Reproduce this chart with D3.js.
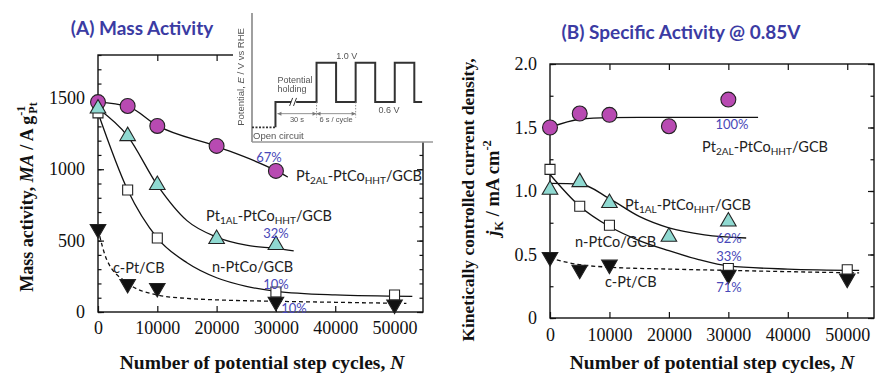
<!DOCTYPE html>
<html>
<head>
<meta charset="utf-8">
<script src="https://cdn.jsdelivr.net/npm/d3@7"></script>
<style>
  html, body { margin: 0; padding: 0; background: #fff; }
  svg { display: block; }
  .tick text { font-family: "Liberation Serif", "Times New Roman", serif; font-size: 18px; fill: #111; }
</style>
</head>
<body>
<svg id="chart" width="877" height="373"></svg>
<script>
// ---- step-cycle counts and measured activities ----
const cycles = [0, 5000, 10000, 20000, 30000, 50000];

// (A) mass activity, A g^-1 Pt
const massPt2AL  = [[0, 1470], [5000, 1443], [10000, 1303], [20000, 1163], [30000, 988]];
const massPt1AL  = [[0, 1425], [5000, 1232], [10000, 889], [20000, 511], [30000, 469]];
const massNPtCo  = [[0, 1395], [5000, 854], [10000, 518], [30000, 140], [50000, 119]];
const massCPt    = [[0, 581], [5000, 196], [10000, 168], [30000, 72], [50000, 52]];

// fitted trend curves for (A)
const fitMassPt2AL = [[0, 1470], [5000, 1440], [10000, 1305], [20000, 1160], [30000, 990], [32000, 945]];
const fitMassPt1AL = [[0, 1425], [5000, 1232], [10000, 889], [15000, 640], [20000, 525], [25000, 468], [30000, 445], [33000, 428]];
const fitMassNPtCo = [[0, 1395], [5000, 854], [10000, 518], [15000, 345], [20000, 240], [25000, 180], [30000, 145], [40000, 120], [53000, 110]];
const fitMassCPt   = [[0, 581], [1500, 364], [5000, 203], [10000, 119], [15000, 95], [20000, 85], [30000, 75], [40000, 68], [52000, 60]];

// (B) specific activity at 0.85 V, mA cm^-2
const specPt2AL  = [[0, 1.50], [5000, 1.61], [10000, 1.60], [20000, 1.51], [30000, 1.72]];
const specPt1AL  = [[0, 1.01], [5000, 1.07], [10000, 0.905], [20000, 0.64], [30000, 0.76]];
const specNPtCo  = [[0, 1.17], [5000, 0.88], [10000, 0.73], [30000, 0.39], [50000, 0.38]];
const specCPt    = [[0, 0.48], [5000, 0.38], [10000, 0.42], [30000, 0.34], [50000, 0.31]];

// fitted trend curves for (B)
const fitSpecPt2AL = [[0, 1.50], [5000, 1.565], [10000, 1.578], [15000, 1.58], [35000, 1.58]];
const fitSpecPt1AL = [[0, 1.06], [5000, 1.055], [10000, 0.94], [15000, 0.80], [20000, 0.71], [26000, 0.655], [33000, 0.63]];
const fitSpecNPtCo = [[0, 1.13], [5000, 0.88], [10000, 0.72], [15000, 0.61], [20000, 0.53], [25000, 0.46], [30000, 0.41], [40000, 0.385], [52000, 0.375]];
const fitSpecCPt   = [[0, 0.47], [5000, 0.42], [10000, 0.40], [20000, 0.385], [30000, 0.375], [40000, 0.365], [52000, 0.355]];

// tick values
const xTicks = [0, 10000, 20000, 30000, 40000, 50000];
const massMajor = [0, 500, 1000, 1500];
const massMinor = d3.range(0, 1801, 100);
const specMajor = [0, 0.5, 1.0, 1.5, 2.0];
const specLabels = ["0", "0.5", "1.0", "1.5", "2.0"];
const specMinor = d3.range(0, 2.01, 0.25);

// retention percentages at the last comparison point
const pctMass = ["67%", "32%", "10%", "10%"];
const pctSpec = ["100%", "62%", "33%", "71%"];

// potential-step protocol (schematic time units, V vs RHE)
const waveOpen = [[0, 0.34], [1.2, 0.34]];
const waveStep = [[1.2, 0.34], [1.2, 0.6], [3.3, 0.6], [3.3, 1.0], [4.3, 1.0], [4.3, 0.6], [5.3, 0.6], [5.3, 1.0],
                  [6.3, 1.0], [6.3, 0.6], [7.3, 0.6], [7.3, 1.0], [8.3, 1.0], [8.3, 0.6], [8.7, 0.6]];

const svg = d3.select("#chart");
svg.append("defs").append("filter").attr("id", "soft").append("feGaussianBlur").attr("stdDeviation", 0.45);
const titleColor = "#3b3ba3";
const pctColor = "#4848b8";
const sans = "Lato, 'Open Sans', sans-serif";
const serif = "'Liberation Serif', 'Times New Roman', serif";

const style = {
  pt2: { shape: "circle", fill: "#b84ab2" },
  pt1: { shape: "tri", fill: "#8fd9d1" },
  npc: { shape: "square", fill: "#ffffff" },
  cpt: { shape: "down", fill: "#111111" }
};

function drawPanel(g, x, y, opt) {
  const [x0, x1] = x.range();
  const [y0, y1] = y.range();

  // frame
  g.append("rect").attr("x", x0).attr("y", y1).attr("width", x1 - x0).attr("height", y0 - y1)
    .attr("fill", "none").attr("stroke", "#111").attr("stroke-width", 1.4);

  // inward ticks
  g.append("g").attr("transform", `translate(0,${y0})`)
    .call(d3.axisBottom(x).tickValues(xTicks).tickSizeInner(-6).tickSizeOuter(0).tickPadding(opt.xPad).tickFormat(d3.format("d")))
    .call(a => a.select(".domain").remove());
  g.append("g").attr("transform", `translate(0,${y1})`)
    .call(d3.axisTop(x).tickValues(xTicks.slice(1)).tickSizeInner(-6).tickSizeOuter(0).tickFormat(""))
    .call(a => a.select(".domain").remove());
  g.append("g").attr("transform", `translate(${x0},0)`)
    .call(d3.axisLeft(y).tickValues(opt.major).tickSizeInner(-6).tickSizeOuter(0).tickPadding(13).tickFormat((d, i) => opt.labels[i]))
    .call(a => a.select(".domain").remove());
  g.append("g").attr("transform", `translate(${x0},0)`)
    .call(d3.axisLeft(y).tickValues(opt.minor).tickSizeInner(-3.5).tickSizeOuter(0).tickFormat(""))
    .call(a => a.select(".domain").remove());
  g.append("g").attr("transform", `translate(${x1},0)`)
    .call(d3.axisRight(y).tickValues(opt.major).tickSizeInner(-6).tickSizeOuter(0).tickFormat(""))
    .call(a => a.select(".domain").remove());
  g.append("g").attr("transform", `translate(${x1},0)`)
    .call(d3.axisRight(y).tickValues(opt.minor).tickSizeInner(-3.5).tickSizeOuter(0).tickFormat(""))
    .call(a => a.select(".domain").remove());
  g.selectAll(".tick line").attr("stroke", "#111").attr("stroke-width", 1.2);

  // trend curves
  const line = d3.line().x(d => x(d[0])).y(d => y(d[1])).curve(d3.curveMonotoneX);
  opt.fits.forEach(f => {
    g.append("path").attr("d", line(f.data)).attr("fill", "none").attr("stroke", "#111")
      .attr("stroke-width", 1.3).attr("stroke-dasharray", f.dash ? "4,3" : null);
  });

  // markers
  opt.series.forEach(s => {
    const st = style[s.key];
    const sel = g.append("g").selectAll("path").data(s.data).join("path")
      .attr("fill", st.fill).attr("stroke", "#222").attr("stroke-width", 1.1);
    if (st.shape === "circle") {
      sel.attr("d", d3.symbol(d3.symbolCircle, 175)()).attr("transform", d => `translate(${x(d[0])},${y(d[1])})`);
    } else if (st.shape === "tri") {
      sel.attr("d", d3.symbol(d3.symbolTriangle, 105)()).attr("transform", d => `translate(${x(d[0])},${y(d[1])})`);
    } else if (st.shape === "square") {
      sel.attr("d", d3.symbol(d3.symbolSquare, 100)()).attr("transform", d => `translate(${x(d[0])},${y(d[1])})`);
    } else {
      sel.attr("d", d3.symbol(d3.symbolTriangle, 105)()).attr("transform", d => `translate(${x(d[0])},${y(d[1])}) rotate(180)`);
    }
  });
}

function catalystLabel(g, px, py, main, sub1, mid, sub2, tail) {
  const t = g.append("text").attr("x", px).attr("y", py).attr("font-family", sans).attr("font-size", 14.5).attr("fill", "#222");
  t.append("tspan").text(main);
  if (sub1) {
    t.append("tspan").attr("font-size", 10).attr("dy", 2.5).text(sub1);
    t.append("tspan").attr("dy", -2.5).text(mid);
    t.append("tspan").attr("font-size", 10).attr("dy", 2.5).text(sub2);
    t.append("tspan").attr("dy", -2.5).text(tail);
  }
  return t;
}
function pct(g, px, py, s) {
  g.append("text").attr("x", px).attr("y", py).attr("text-anchor", "middle").attr("font-family", sans)
    .attr("font-size", 13).attr("fill", pctColor).text(s);
}

// ---------------- (A) mass activity ----------------
const xA = d3.scaleLinear().domain([0, 54800]).range([98, 423]);
const yA = d3.scaleLinear().domain([0, 1800]).range([312, 55]);
const gA = svg.append("g");
drawPanel(gA, xA, yA, {
  xPad: 9, major: massMajor, labels: massMajor.map(String), minor: massMinor,
  fits: [{ data: fitMassPt2AL }, { data: fitMassPt1AL }, { data: fitMassNPtCo }, { data: fitMassCPt, dash: true }],
  series: [{ key: "pt2", data: massPt2AL }, { key: "npc", data: massNPtCo }, { key: "pt1", data: massPt1AL }, { key: "cpt", data: massCPt }]
});

// inset: potential-step protocol, on a white card over the panel corner
svg.append("rect").attr("x", 233).attr("y", 4).attr("width", 200).attr("height", 138).attr("fill", "#fff");
const inset = svg.append("g").attr("filter", "url(#soft)");
const tI = d3.scaleLinear().domain([0, 9]).range([252, 428]);
const eI = d3.scaleLinear().domain([0.2, 1.5]).range([141, 14]);
inset.append("line").attr("x1", 252).attr("x2", 252).attr("y1", 13).attr("y2", 142).attr("stroke", "#888").attr("stroke-width", 1.6);
inset.append("line").attr("x1", 252).attr("x2", 433).attr("y1", 142).attr("y2", 142).attr("stroke", "#999").attr("stroke-width", 1.6);
const wl = d3.line().x(d => tI(d[0])).y(d => eI(d[1]));
inset.append("path").attr("d", wl(waveOpen)).attr("fill", "none").attr("stroke", "#333").attr("stroke-width", 1.8).attr("stroke-dasharray", "2,1.5");
inset.append("path").attr("d", wl(waveStep)).attr("fill", "none").attr("stroke", "#333").attr("stroke-width", 2);
// hold break mark
inset.append("rect").attr("x", tI(2.0)).attr("y", eI(0.6) - 3).attr("width", 5).attr("height", 6).attr("fill", "#fff");
[2.0, 2.2].forEach(t => inset.append("line").attr("x1", tI(t) - 1.5).attr("x2", tI(t) + 1.5).attr("y1", eI(0.6) + 4).attr("y2", eI(0.6) - 4).attr("stroke", "#333").attr("stroke-width", 1));
// duration markers
const yArrow = eI(0.48);
[[1.3, 3.3], [3.3, 5.3]].forEach(([a, b]) => {
  inset.append("line").attr("x1", tI(a)).attr("x2", tI(b)).attr("y1", yArrow).attr("y2", yArrow).attr("stroke", "#777").attr("stroke-width", 0.8);
  inset.append("path").attr("d", `M${tI(a)},${yArrow}l4,-2v4z M${tI(b)},${yArrow}l-4,-2v4z`).attr("fill", "#777");
});
[3.3, 5.3].forEach(t => inset.append("line").attr("x1", tI(t)).attr("x2", tI(t)).attr("y1", eI(0.6)).attr("y2", eI(0.44))
  .attr("stroke", "#777").attr("stroke-width", 0.8).attr("stroke-dasharray", "1.5,1.5"));
const insetFont = "'Liberation Sans', Arial, sans-serif";
function insetText(px, py, s, anchor) {
  return inset.append("text").attr("x", px).attr("y", py).attr("font-family", insetFont).attr("font-size", 9)
    .attr("fill", "#555").attr("text-anchor", anchor || "start").text(s);
}
insetText(tI(4.85), eI(1.04), "1.0 V", "middle");
insetText(tI(7.0), eI(0.49), "0.6 V", "middle");
insetText(tI(1.3), eI(0.79), "Potential");
insetText(tI(1.3), eI(0.70), "holding");
insetText(tI(2.3), eI(0.39), "30 s", "middle").attr("font-size", 7.5);
insetText(tI(4.3), eI(0.39), "6 s / cycle", "middle").attr("font-size", 7.5);
insetText(253, 139, "Open circuit").attr("font-size", 9.5);
const insetY = inset.append("text").attr("transform", "translate(244,77) rotate(-90)").attr("text-anchor", "middle")
  .attr("font-family", insetFont).attr("font-size", 9.5).attr("fill", "#555");
insetY.append("tspan").text("Potential, ");
insetY.append("tspan").attr("font-style", "italic").text("E");
insetY.append("tspan").text(" / V vs RHE");

// labels (A)
catalystLabel(gA, 296, 181, "Pt", "2AL", "-PtCo", "HHT", "/GCB");
catalystLabel(gA, 206, 221, "Pt", "1AL", "-PtCo", "HHT", "/GCB");
catalystLabel(gA, 212, 272, "n-PtCo/GCB");
catalystLabel(gA, 113, 273, "c-Pt/CB");
pct(gA, 269, 162, pctMass[0]);
pct(gA, 276, 238, pctMass[1]);
pct(gA, 276, 289, pctMass[2]);
pct(gA, 294, 313, pctMass[3]);

svg.append("text").attr("x", 142).attr("y", 35).attr("text-anchor", "middle").attr("font-family", sans)
  .attr("font-weight", "bold").attr("font-size", 19).attr("fill", titleColor).text("(A) Mass Activity");

const yLabA = svg.append("text").attr("transform", "translate(33,197) rotate(-90)").attr("text-anchor", "middle")
  .attr("font-family", serif).attr("font-weight", "bold").attr("font-size", 18).attr("fill", "#111");
yLabA.append("tspan").text("Mass activity, ");
yLabA.append("tspan").attr("font-style", "italic").text("MA");
yLabA.append("tspan").text(" / A g");
yLabA.append("tspan").attr("font-size", 12).attr("dy", -8).text("-1");
yLabA.append("tspan").attr("font-size", 12).attr("dy", 12).attr("dx", -8).text("Pt");

const xLabA = svg.append("text").attr("x", 262).attr("y", 369).attr("text-anchor", "middle")
  .attr("font-family", serif).attr("font-weight", "bold").attr("font-size", 19.5).attr("fill", "#111");
xLabA.append("tspan").text("Number of potential step cycles, ");
xLabA.append("tspan").attr("font-style", "italic").text("N");

// ---------------- (B) specific activity ----------------
const xB = d3.scaleLinear().domain([0, 54500]).range([550, 874]);
const yB = d3.scaleLinear().domain([0, 2]).range([318, 64]);
const gB = svg.append("g");
drawPanel(gB, xB, yB, {
  xPad: 10, major: specMajor, labels: specLabels, minor: specMinor,
  fits: [{ data: fitSpecPt2AL }, { data: fitSpecPt1AL }, { data: fitSpecNPtCo }, { data: fitSpecCPt, dash: true }],
  series: [{ key: "pt2", data: specPt2AL }, { key: "npc", data: specNPtCo }, { key: "pt1", data: specPt1AL }, { key: "cpt", data: specCPt }]
});

catalystLabel(gB, 702, 152, "Pt", "2AL", "-PtCo", "HHT", "/GCB");
catalystLabel(gB, 625, 210, "Pt", "1AL", "-PtCo", "HHT", "/GCB");
catalystLabel(gB, 575, 247, "n-PtCo/GCB");
catalystLabel(gB, 605, 287, "c-Pt/CB");
pct(gB, 732, 129, pctSpec[0]);
pct(gB, 729, 243, pctSpec[1]);
pct(gB, 729, 261, pctSpec[2]);
pct(gB, 729, 292, pctSpec[3]);

svg.append("text").attr("x", 681).attr("y", 39).attr("text-anchor", "middle").attr("font-family", sans)
  .attr("font-weight", "bold").attr("font-size", 19).attr("fill", titleColor).text("(B) Specific Activity @ 0.85V");

const yLabB1 = svg.append("text").attr("transform", "translate(474,200) rotate(-90)").attr("text-anchor", "middle")
  .attr("font-family", serif).attr("font-weight", "bold").attr("font-size", 17.5).attr("fill", "#111")
  .text("Kinetically controlled current density,");
const yLabB2 = svg.append("text").attr("transform", "translate(499,188) rotate(-90)").attr("text-anchor", "middle")
  .attr("font-family", serif).attr("font-weight", "bold").attr("font-size", 18.5).attr("fill", "#111");
yLabB2.append("tspan").attr("font-style", "italic").text("j");
yLabB2.append("tspan").attr("font-size", 12.5).attr("dy", 4).text("K");
yLabB2.append("tspan").attr("dy", -4).text(" / mA cm");
yLabB2.append("tspan").attr("font-size", 12.5).attr("dy", -8).text("-2");

const xLabB = svg.append("text").attr("x", 712).attr("y", 369).attr("text-anchor", "middle")
  .attr("font-family", serif).attr("font-weight", "bold").attr("font-size", 19.5).attr("fill", "#111");
xLabB.append("tspan").text("Number of potential step cycles, ");
xLabB.append("tspan").attr("font-style", "italic").text("N");
</script>
</body>
</html>
